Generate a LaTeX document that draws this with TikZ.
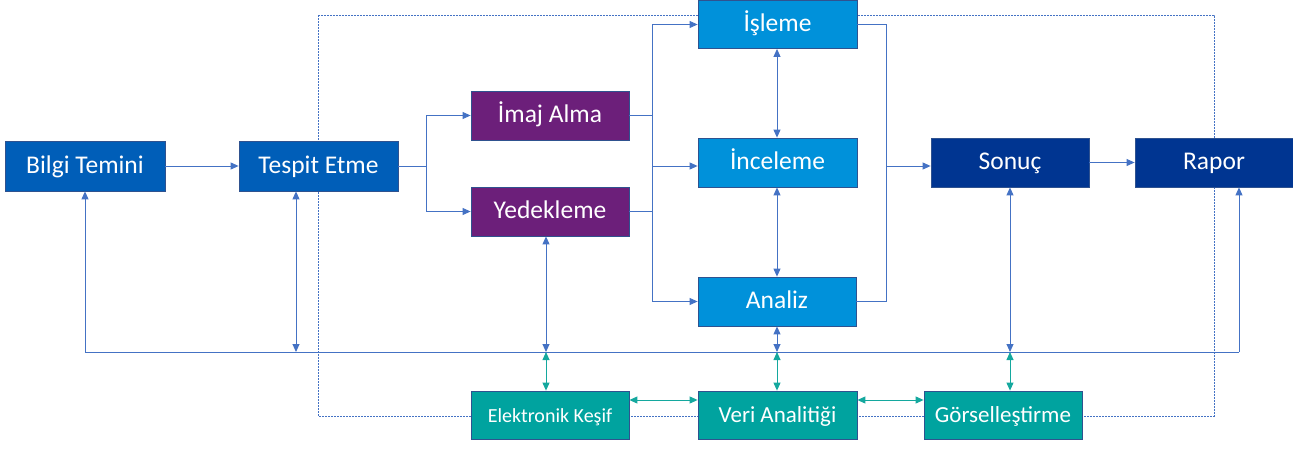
\documentclass[tikz,border=0pt]{standalone}
\usepackage{fontspec}
\setmainfont{Carlito}
\usetikzlibrary{arrows.meta}
\definecolor{cBlue}{HTML}{005EB8}
\definecolor{cPurple}{HTML}{6C1F7A}
\definecolor{cLight}{HTML}{0091DA}
\definecolor{cDark}{HTML}{003591}
\definecolor{cTeal}{HTML}{00A39F}
\definecolor{cEdge}{HTML}{2F528F}
\definecolor{cLine}{HTML}{4472C4}
\definecolor{cTealLine}{HTML}{14A89E}
\tikzset{
  box/.style={draw=cEdge, line width=0.8pt, text=white, minimum width=158pt, minimum height=49pt, inner sep=0pt, text height=19pt, text depth=5pt, font=\fontsize{25.5}{28}\selectfont},
  smallbox/.style={box, font=\fontsize{23}{26}\selectfont},
  conn/.style={draw=cLine, line width=0.9pt},
  arr/.style={conn, -{Triangle[length=8pt,width=7pt]}},
  darr/.style={conn, {Triangle[length=8pt,width=7pt]}-{Triangle[length=8pt,width=7pt]}},
  tarr/.style={draw=cTealLine, line width=0.9pt, {Triangle[length=8pt,width=7pt]}-{Triangle[length=8pt,width=7pt]}},
  dashloop/.style={draw=cLine, line width=0.8pt, dash pattern=on 2pt off 1pt},
}
\begin{document}
\begin{tikzpicture}[x=1pt,y=-1pt]
\useasboundingbox (0,0) rectangle (1293,448);
% dashed loop (behind the boxes)
\coordinate (dTL) at (318,15);
\coordinate (dBR) at (1214,416);
\draw[dashloop] (dTL) rectangle (dBR);

% boxes
\node[box, fill=cBlue, minimum width=160pt, minimum height=50pt] (bilgi) at (85,166) {Bilgi Temini};
\node[box, fill=cBlue, minimum width=159pt, minimum height=50pt] (tespit) at (318.5,166) {Tespit Etme};
\node[box, fill=cPurple] (imaj) at (550,115.5) {İmaj Alma};
\node[box, fill=cPurple] (yedek) at (550,211.5) {Yedekleme};
\node[box, fill=cLight, minimum width=159pt, minimum height=48pt] (isleme) at (777.5,24.5) {İşleme};
\node[box, fill=cLight, minimum width=159pt] (inceleme) at (777.5,162.5) {İnceleme};
\node[box, fill=cLight] (analiz) at (777,301.5) {Analiz};
\node[box, fill=cDark] (sonuc) at (1010,162.5) {Sonuç};
\node[box, fill=cDark] (rapor) at (1214,162.5) {Rapor};
\node[box, fill=cTeal, font=\fontsize{20}{23}\selectfont, minimum height=48pt] (elek) at (550,415) {Elektronik Keşif};
\node[smallbox, fill=cTeal, minimum width=159pt, minimum height=48pt] (veri) at (777.5,415) {Veri Analitiği};
\node[smallbox, fill=cTeal, minimum height=48pt] (gorsel) at (1003,415) {Görselleştirme};

% junction coordinates
\coordinate (j1) at (426,166);
\coordinate (j2) at (652,0);
\coordinate (j3) at (886,0);
\coordinate (busL) at (85,352);
\coordinate (busR) at (1239,352);
\coordinate (bT) at (296,352);
\coordinate (bY) at (546,352);
\coordinate (bA) at (777,352);
\coordinate (bS) at (1010,352);

% main flow
\draw[arr] (bilgi.east) -- (tespit.west);
\draw[conn] (tespit.east) -- (j1);
\draw[arr] (j1) |- (imaj.west);
\draw[arr] (j1) |- (yedek.west);
\draw[conn] (imaj.east) -- (imaj.east -| j2);
\draw[conn] (yedek.east) -- (yedek.east -| j2);
\draw[conn] (j2 |- isleme.west) -- (j2 |- analiz.west);
\draw[arr] (j2 |- isleme.west) -- (isleme.west);
\draw[arr] (j2 |- j1) -- (inceleme.west |- j1);
\draw[arr] (j2 |- analiz.west) -- (analiz.west);
\draw[conn] (isleme.east) -- (isleme.east -| j3) -- (j3 |- analiz.east) -- (analiz.east);
\draw[arr] (j3 |- j1) -- (sonuc.west |- j1);
\draw[arr] (sonuc.east) -- (rapor.west);

% vertical links between blue boxes
\draw[darr] (isleme.south -| bA) -- (inceleme.north -| bA);
\draw[darr] (inceleme.south -| bA) -- (analiz.north -| bA);

% bus
\draw[conn] (busL) -- (busR);
\draw[arr] (busL) -- (bilgi.south);
\draw[arr] (busR) -- (busR |- rapor.south);
\draw[darr] (bT |- tespit.south) -- (bT);
\draw[darr] (bY |- yedek.south) -- (bY);
\draw[darr] (analiz.south -| bA) -- (bA);
\draw[darr] (bS |- sonuc.south) -- (bS);

% teal links
\draw[tarr] (bY) -- (bY |- elek.north);
\draw[tarr] (bA) -- (bA |- veri.north);
\draw[tarr] (bS) -- (bS |- gorsel.north);
\coordinate (tY) at (0,400);
\draw[tarr] (elek.east |- tY) -- (veri.west |- tY);
\draw[tarr] (veri.east |- tY) -- (gorsel.west |- tY);
\end{tikzpicture}
\end{document}
